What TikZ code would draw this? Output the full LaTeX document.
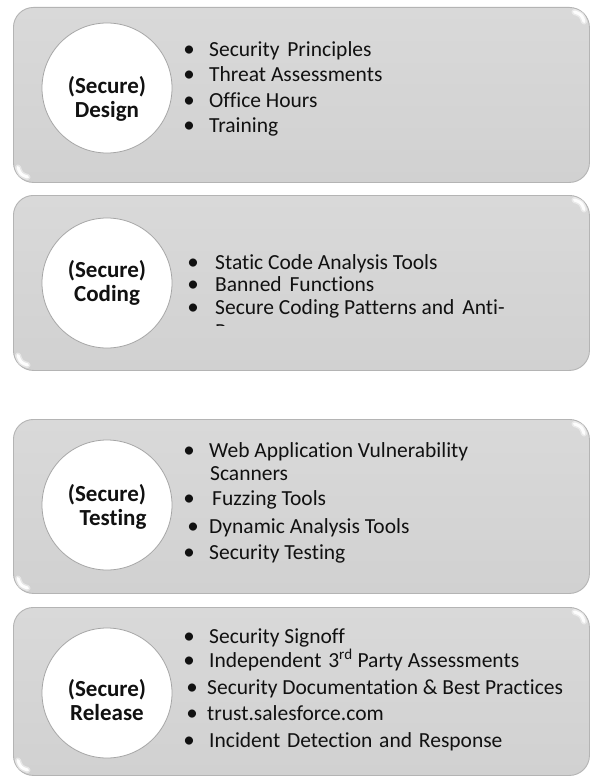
\documentclass[tikz,border=0pt]{standalone}
\usepackage{fontspec}
\setmainfont{Carlito}[Ligatures=NoCommon]
\definecolor{paneltop}{HTML}{D9D9D9}
\definecolor{panelbot}{HTML}{D1D1D1}
\definecolor{panelline}{HTML}{B4B4B4}
\definecolor{circline}{HTML}{A6A6A6}
\definecolor{txt}{HTML}{111111}
\tikzset{
  panelbox/.style={draw=panelline, line width=0.9pt, rounded corners=20pt,
    top color=paneltop, bottom color=panelbot, minimum width=576pt,
    inner sep=0pt, anchor=north west},
  circ/.style={circle, minimum size=130pt, inner sep=0pt, fill=white,
    draw=circline, line width=0.8pt},
  lbl/.style={font=\fontsize{23}{24.5}\selectfont\bfseries, align=center,
    inner sep=0pt, text=txt},
  bul/.style={anchor=base, inner sep=0pt, font=\fontsize{23}{24}\selectfont, text=txt},
  item/.style={anchor=base west, inner sep=0pt, font=\fontsize{21.5}{24}\selectfont, text=txt},
  glosswide/.style={white, line width=6pt, line cap=round, opacity=0.45},
  glossline/.style={white, line width=3pt, line cap=round, opacity=0.95}
}
\newcommand{\mygloss}[2]{%
  \draw[glosswide] (574.5,#1+5) .. controls (581.5,#1+7.5) .. (584,#1+14.5);
  \draw[glossline] (574.5,#1+5) .. controls (581.5,#1+7.5) .. (584,#1+14.5);
  \draw[glosswide] (27.5,#2-5) .. controls (20.5,#2-7.5) .. (18,#2-14.5);
  \draw[glossline] (27.5,#2-5) .. controls (20.5,#2-7.5) .. (18,#2-14.5);}
\begin{document}
\begin{tikzpicture}[x=1pt,y=-1pt]
\useasboundingbox (0,0) rectangle (590,778);
\fill[white] (0,0) rectangle (590,778);

% Panel 1
\node[panelbox, minimum height=175pt] (p1) at (13,7) {};
\mygloss{7}{182}
\node[circ] (c1) at (107,88) {};
\node[lbl] (l1) at (107,99) {(Secure)\\Design};
\node[bul] (b11) at (189,57) {•};
\node[item] (t11) at (209,57) {Security\hspace{3pt} Principles};
\node[bul] (b12) at (189,82) {•};
\node[item] (t12) at (209,82) {Threat Assessments};
\node[bul] (b13) at (189,108) {•};
\node[item] (t13) at (209,108) {Office Hours};
\node[bul] (b14) at (189,133) {•};
\node[item] (t14) at (209,133) {Training};

% Panel 2
\node[panelbox, minimum height=175pt] (p2) at (13,195) {};
\mygloss{195}{370}
\node[circ] (c2) at (107,283) {};
\node[lbl] (l2) at (107,283) {(Secure)\\Coding};
\node[bul] (b21) at (193,269) {•};
\node[item] (t21) at (215,269) {Static Code Analysis Tools};
\node[bul] (b22) at (193,291) {•};
\node[item] (t22) at (215,291) {Banned\hspace{3pt} Functions};
\node[bul] (b23) at (193,314) {•};
\node[item] (t23) at (215,314) {Secure Coding Patterns and\hspace{3pt} Anti-};
\begin{scope}
  \clip (212,300) rectangle (226,325.5);
  \node[item] (t24) at (215,338) {Patterns};
\end{scope}

% Panel 3
\node[panelbox, minimum height=174pt] (p3) at (13,419) {};
\mygloss{419}{593}
\node[circ] (c3) at (107,505) {};
\node[lbl] (l3) at (107,507) {(Secure)\\\hspace*{12pt}Testing};
\node[bul] (b31) at (189,457) {•};
\node[item] (t31) at (209,457) {Web Application Vulnerability};
\node[item] (t32) at (210,480) {Scanners};
\node[bul] (b33) at (189,505) {•};
\node[item] (t33) at (212,505) {Fuzzing Tools};
\node[bul] (b34) at (193,533) {•};
\node[item] (t34) at (209,533) {Dynamic Analysis Tools};
\node[bul] (b35) at (189,559) {•};
\node[item] (t35) at (209,559) {Security Testing};

% Panel 4
\node[panelbox, minimum height=168pt] (p4) at (13,607) {};
\mygloss{607}{775}
\node[circ] (c4) at (107,693) {};
\node[lbl] (l4) at (107,700) {(Secure)\\Release};
\node[bul] (b41) at (189,643) {•};
\node[item] (t41) at (209,643) {Security Signoff};
\node[bul] (b42) at (189,667) {•};
\node[item] (t42) at (209,667) {Independent\hspace{2pt} 3\textsuperscript{rd} Party Assessments};
\node[bul] (b43) at (192,694) {•};
\node[item] (t43) at (207,694) {Security Documentation \& Best Practices};
\node[bul] (b44) at (192,720) {•};
\node[item] (t44) at (207,720) {trust.salesforce.com};
\node[bul] (b45) at (189,747) {•};
\node[item] (t45) at (209,747) {Incident\hspace{2pt} Detection\hspace{2pt} and\hspace{2pt} Response};
\end{tikzpicture}
\end{document}
